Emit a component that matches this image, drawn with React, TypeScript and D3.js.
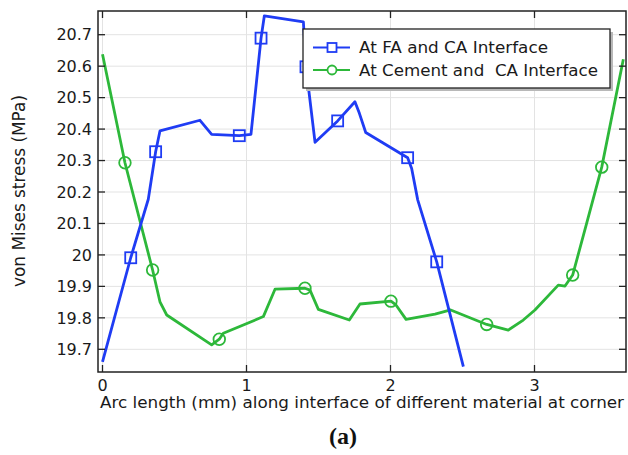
import React from "react";
import * as d3 from "d3";

const faX = [0, 0.196, 0.318, 0.369, 0.399, 0.677, 0.758, 0.95, 1.031, 1.101, 1.124, 1.395, 1.413, 1.476, 1.633, 1.753, 1.784, 1.828, 2.119, 2.147, 2.189, 2.321, 2.506];
const faY = [19.66, 19.991, 20.177, 20.328, 20.394, 20.428, 20.383, 20.379, 20.383, 20.689, 20.76, 20.741, 20.598, 20.358, 20.426, 20.487, 20.45, 20.389, 20.309, 20.275, 20.175, 19.978, 19.645];
const faMarkers = [1, 3, 7, 9, 12, 14, 18, 21];

const cemX = [0, 0.156, 0.348, 0.399, 0.446, 0.758, 0.811, 0.839, 1.117, 1.198, 1.406, 1.441, 1.499, 1.714, 1.788, 2.003, 2.038, 2.108, 2.309, 2.418, 2.668, 2.818, 2.922, 3.003, 3.165, 3.212, 3.265, 3.362, 3.467, 3.617];
const cemY = [20.638, 20.293, 19.952, 19.851, 19.809, 19.714, 19.732, 19.751, 19.804, 19.891, 19.894, 19.888, 19.827, 19.793, 19.844, 19.853, 19.841, 19.795, 19.812, 19.825, 19.779, 19.761, 19.793, 19.825, 19.904, 19.901, 19.936, 20.1, 20.279, 20.622];
const cemMarkers = [1, 2, 6, 10, 15, 20, 26, 28];

const xTicks = [0, 1, 2, 3];
const yTicks = [19.7, 19.8, 19.9, 20, 20.1, 20.2, 20.3, 20.4, 20.5, 20.6, 20.7];
const seriesNames = ["At FA and CA Interface", "At Cement and  CA Interface"];
const xLabel = "Arc length (mm) along interface of different material at corner";
const yLabel = "von Mises stress (MPa)";
const caption = "(a)";

const BLUE = "#1f3cf4";
const GREEN = "#2db83a";
const FONT = "DejaVu Sans, sans-serif";

export default function App() {
  const L = 98, R = 626, T = 11, B = 372;
  const x = d3.scaleLinear().domain([0, 1]).range([102.5, 246.5]);
  const y = d3.scaleLinear().domain([19.7, 20.7]).range([349.3, 34.7]);
  const line = d3.line<[number, number]>().x(d => x(d[0])).y(d => y(d[1]));
  const fa: [number, number][] = faX.map((v, i) => [v, faY[i]]);
  const cem: [number, number][] = cemX.map((v, i) => [v, cemY[i]]);
  const tk = 7;
  const fmt = (v: number) => d3.format("~g")(+v.toFixed(1));
  const legendLens = [189, 239];

  return (
    <svg width={628} height={455} style={{ position: "absolute", left: 0, top: 0, background: "#fff" }} fontFamily={FONT}>
      <defs>
        <clipPath id="plotclip">
          <rect x={L} y={T} width={R - L} height={B - T} />
        </clipPath>
      </defs>
      <rect x={0} y={0} width={628} height={455} fill="#fff" />
      {/* grid */}
      {xTicks.map(t => (
        <line key={"gx" + t} x1={x(t)} x2={x(t)} y1={T} y2={B} stroke="#e3e3e3" strokeWidth={1} />
      ))}
      {yTicks.map(t => (
        <line key={"gy" + t} x1={L} x2={R} y1={y(t)} y2={y(t)} stroke="#e3e3e3" strokeWidth={1} />
      ))}
      {/* series */}
      <g clipPath="url(#plotclip)">
        <path d={line(cem) || ""} fill="none" stroke={GREEN} strokeWidth={2.8} strokeLinejoin="round" />
        {cemMarkers.map(i => (
          <circle key={"cm" + i} cx={x(cemX[i])} cy={y(cemY[i])} r={5.8} fill="none" stroke={GREEN} strokeWidth={1.8} />
        ))}
        <path d={line(fa) || ""} fill="none" stroke={BLUE} strokeWidth={2.8} strokeLinejoin="round" />
        {faMarkers.map(i => (
          <rect key={"fm" + i} x={x(faX[i]) - 5.5} y={y(faY[i]) - 5.5} width={11} height={11} fill="none" stroke={BLUE} strokeWidth={1.8} />
        ))}
      </g>
      {/* frame */}
      <rect x={L} y={T} width={R - L} height={B - T} fill="none" stroke="#222" strokeWidth={1.5} />
      {/* ticks */}
      {xTicks.map(t => (
        <g key={"xt" + t}>
          <line x1={x(t)} x2={x(t)} y1={B} y2={B - tk} stroke="#222" strokeWidth={1.3} />
          <line x1={x(t)} x2={x(t)} y1={T} y2={T + tk} stroke="#222" strokeWidth={1.3} />
          <text x={x(t)} y={390.5} textAnchor="middle" fontSize={16} fill="#1a1a1a">{t}</text>
        </g>
      ))}
      {yTicks.map(t => (
        <g key={"yt" + t}>
          <line x1={L} x2={L + tk} y1={y(t)} y2={y(t)} stroke="#222" strokeWidth={1.3} />
          <line x1={R} x2={R - tk} y1={y(t)} y2={y(t)} stroke="#222" strokeWidth={1.3} />
          <text x={92} y={y(t)} dy="0.36em" textAnchor="end" fontSize={16} fill="#1a1a1a">{fmt(t)}</text>
        </g>
      ))}
      {/* axis labels */}
      <text x={100} y={408} fontSize={16} textLength={524} lengthAdjust="spacingAndGlyphs" fill="#1a1a1a">{xLabel}</text>
      <text transform={`translate(25,191) rotate(-90)`} textAnchor="middle" fontSize={17} textLength={192} lengthAdjust="spacingAndGlyphs" fill="#1a1a1a">{yLabel}</text>
      <text x={343} y={444} textAnchor="middle" fontSize={24} fontWeight="bold" fontFamily="Liberation Serif, Times New Roman, serif" fill="#111">{caption}</text>
      {/* legend */}
      <rect x={306} y={32} width={307} height={59} fill="#b8b8b8" />
      <rect x={303} y={29} width={307} height={59} fill="#fff" stroke="#222" strokeWidth={1.3} />
      {[BLUE, GREEN].map((c, i) => {
        const ly = i === 0 ? 47.5 : 70;
        return (
          <g key={"lg" + i}>
            <line x1={313} x2={350} y1={ly} y2={ly} stroke={c} strokeWidth={2.2} />
            {i === 0 ? (
              <rect x={327.5} y={ly - 4.5} width={9} height={9} fill="#fff" stroke={c} strokeWidth={1.8} />
            ) : (
              <circle cx={332} cy={ly} r={4.5} fill="#fff" stroke={c} strokeWidth={1.8} />
            )}
            <text x={359} y={ly} dy="0.36em" fontSize={16.5} textLength={legendLens[i]} lengthAdjust="spacingAndGlyphs" style={{ whiteSpace: "pre" }} fill="#1a1a1a">{seriesNames[i]}</text>
          </g>
        );
      })}
    </svg>
  );
}
